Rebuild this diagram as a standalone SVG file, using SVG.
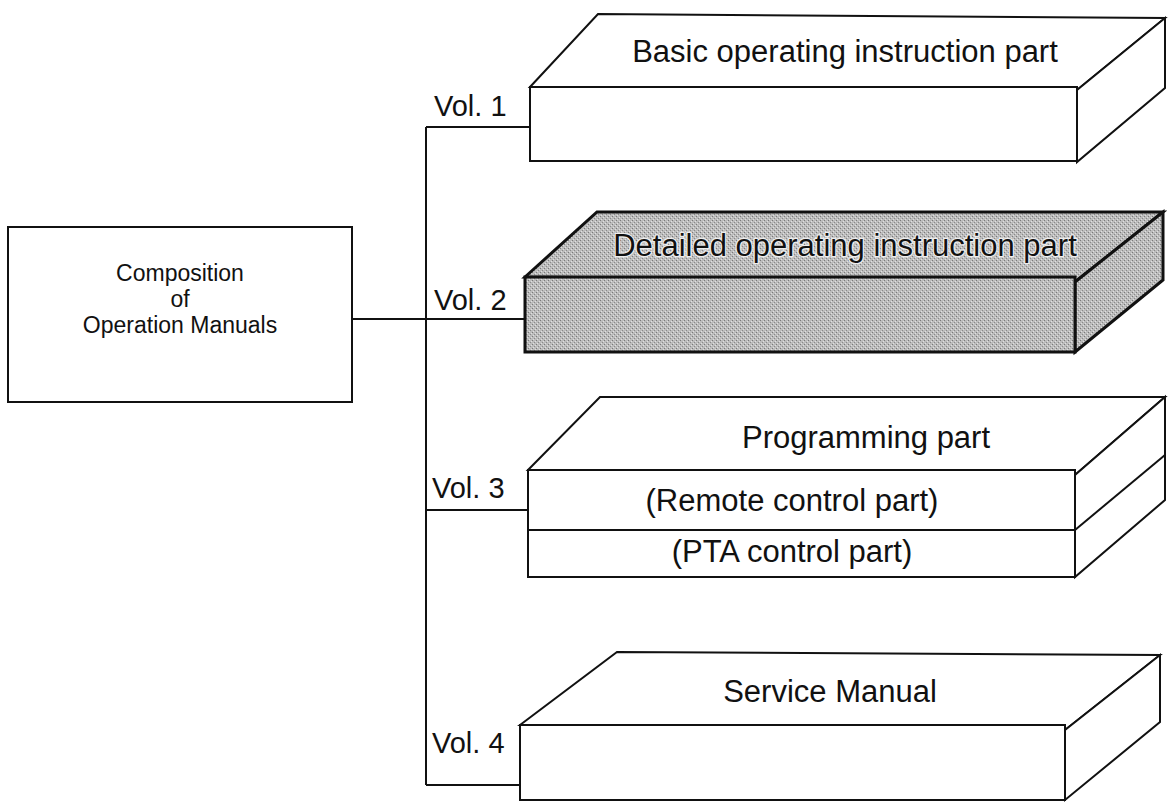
<svg xmlns="http://www.w3.org/2000/svg" width="1168" height="806" viewBox="0 0 1168 806">
<style>
.ln{fill:none;stroke:#111;stroke-width:2;stroke-linejoin:miter}
.face{fill:#fff;stroke:#111;stroke-width:2;stroke-linejoin:miter}
.gface{fill:url(#dots);stroke:#111;stroke-width:3;stroke-linejoin:miter}
.t{font-family:"Liberation Sans",Arial,sans-serif;fill:#111}
.big{font-size:31px}
.vol{font-size:29px}
.mid{font-size:23px}
.c{text-anchor:middle}
.halo{stroke:#eee;stroke-width:2.5;paint-order:stroke;stroke-linejoin:round}
</style>
<defs>
<pattern id="dots" width="4" height="4" patternUnits="userSpaceOnUse">
<rect width="4" height="4" fill="#bcbcbc"/>
<rect x="0" y="0" width="1" height="1" fill="#7a7a7a"/>
<rect x="2" y="2" width="1" height="1" fill="#8a8a8a"/>
<rect x="1" y="3" width="1" height="1" fill="#e0e0e0"/>
<rect x="3" y="1" width="1" height="1" fill="#e0e0e0"/>
</pattern>
</defs>
<g id="connectors">
<path class="ln" d="M426 127 V785"/>
<path class="ln" d="M426 127 H530"/>
<path class="ln" d="M352 319 H525"/>
<path class="ln" d="M426 510 H528"/>
<path class="ln" d="M426 785 H520"/>
</g>
<g id="root">
<rect class="face" x="8" y="227" width="344" height="175"/>
<text class="t mid c" x="180" y="281">Composition</text>
<text class="t mid c" x="180" y="307">of</text>
<text class="t mid c" x="180" y="333">Operation Manuals</text>
</g>
<g id="vol1">
<polygon class="face" points="530,87 598,14 1165,18 1077,90"/>
<polygon class="face" points="1077,90 1165,18 1165,88 1077,162"/>
<rect class="face" x="530" y="87" width="547" height="74"/>
<text class="t big c" x="845" y="62">Basic operating instruction part</text>
<text class="t vol" x="434" y="116">Vol. 1</text>
</g>
<g id="vol2">
<polygon class="gface" points="525,277 597,212 1163,212 1075,282"/>
<polygon class="gface" points="1075,282 1163,212 1163,280 1075,352"/>
<rect class="gface" x="525" y="277" width="550" height="75"/>
<text class="t big c halo" x="845" y="256">Detailed operating instruction part</text>
<text class="t vol" x="434" y="310">Vol. 2</text>
</g>
<g id="vol3">
<polygon class="face" points="528,470 600,397 1165,397 1075,475"/>
<polygon class="face" points="1075,475 1165,397 1165,500 1075,577"/>
<path class="ln" d="M1075 530 L1165 455"/>
<rect class="face" x="528" y="470" width="547" height="107"/>
<path class="ln" d="M528 530 H1075"/>
<text class="t big c" x="866" y="448">Programming part</text>
<text class="t big c" x="792" y="511">(Remote control part)</text>
<text class="t big c" x="792" y="562">(PTA control part)</text>
<text class="t vol" x="432" y="498">Vol. 3</text>
</g>
<g id="vol4">
<polygon class="face" points="520,725 617,652 1160,655 1065,730"/>
<polygon class="face" points="1065,730 1160,655 1160,722 1065,800"/>
<rect class="face" x="520" y="725" width="545" height="75"/>
<text class="t big c" x="830" y="702">Service Manual</text>
<text class="t vol" x="432" y="753">Vol. 4</text>
</g>
</svg>
